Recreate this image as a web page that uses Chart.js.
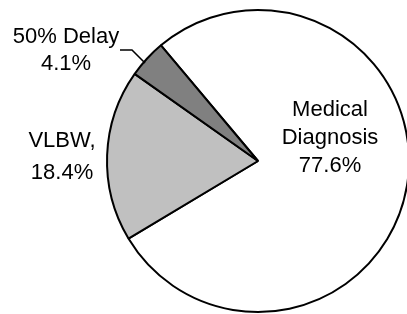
<!DOCTYPE html>
<html>
<head>
<meta charset="utf-8">
<script src="https://cdn.jsdelivr.net/npm/chart.js@4"></script>
<style>
  html, body { margin: 0; padding: 0; background: #fff; }
  #wrap { width: 407px; height: 314px; }
</style>
</head>
<body>
<div id="wrap"><canvas id="chart"></canvas></div>
<script>
const categories = ['Medical Diagnosis', 'VLBW', '50% Delay'];
const shares = [77.6, 18.4, 4.1];
const labelLines = [
    ['Medical', 'Diagnosis', '77.6%'],
    ['VLBW,', '18.4%'],
    ['50% Delay', '4.1%']
];
const sliceColors = ['#ffffff', '#c0c0c0', '#808080'];

// label placement: offset of first baseline from the pie centre, then line step
const labelSpots = [
    { dx: 72, dy: -45, step: 28 },
    { dx: -196, dy: -14, step: 32 },
    { dx: -192, dy: -118, step: 27 }
];

const sliceLabels = {
    id: 'sliceLabels',
    afterDraw(chart) {
        const arc = chart.getDatasetMeta(0).data[0];
        const cx = arc.x, cy = arc.y;
        const ctx = chart.ctx;
        ctx.save();
        ctx.fillStyle = '#000';
        ctx.font = '22px "Liberation Sans", Arial, sans-serif';
        ctx.textAlign = 'center';
        ctx.textBaseline = 'alphabetic';
        labelLines.forEach((lines, i) => {
            const spot = labelSpots[i];
            lines.forEach((t, j) => {
                ctx.fillText(t, cx + spot.dx, cy + spot.dy + j * spot.step);
            });
        });
        // leader line for the small slice
        ctx.strokeStyle = '#000';
        ctx.lineWidth = 1.5;
        ctx.beginPath();
        ctx.moveTo(cx - 138, cy - 111);
        ctx.lineTo(cx - 126, cy - 111);
        ctx.lineTo(cx - 113, cy - 98);
        ctx.stroke();
        ctx.restore();
    }
};

const ctx = document.getElementById('chart').getContext('2d');
const chart = new Chart(ctx, {
    type: 'pie',
    data: {
        labels: categories,
        datasets: [{
            data: shares,
            backgroundColor: sliceColors,
            borderColor: '#000000',
            borderWidth: 2,
            borderAlign: 'center'
        }]
    },
    options: {
        responsive: true,
        maintainAspectRatio: false,
        animation: false,
        rotation: -40,
        radius: 151,
        layout: { padding: { left: 109, right: 0, top: 8, bottom: 0 } },
        plugins: {
            legend: { display: false },
            tooltip: { enabled: false }
        }
    },
    plugins: [sliceLabels]
});
</script>
</body>
</html>
